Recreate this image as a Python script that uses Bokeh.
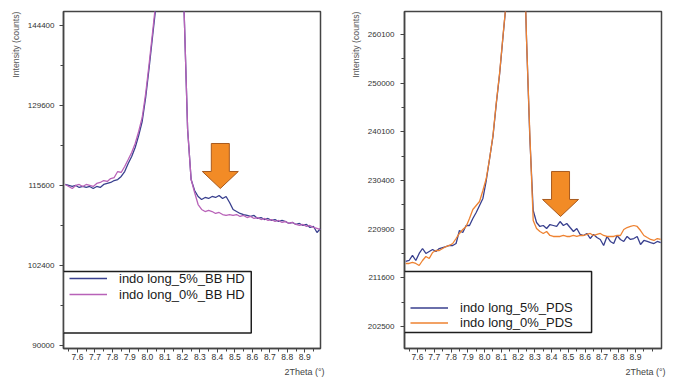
import numpy as np
from bokeh.plotting import figure
from bokeh.models import (Range1d, FixedTicker, CustomJSTickFormatter, Title,
                          Legend, LegendItem, BoxAnnotation, PolyAnnotation)
from bokeh.layouts import row
from bokeh.embed import file_html
from bokeh.resources import INLINE

FONT = "Liberation Sans"

# ---------------- data (2Theta in degrees, intensity in counts) ----------------
x_left = np.round(np.arange(7.53, 8.995, 0.02), 2)   # 74 samples
bb_5 = [115770, 115600, 115430, 115600, 115260, 115430, 115260, 115430, 115090, 115430,
        115260, 115770, 115940, 116110, 116450, 116620, 117140, 117990, 119370, 120580,
        122150, 124260, 126740, 131040, 136530, 142510, 148500, 160000, 176000, 188000,
        192000, 189000, 178000, 163000, 147000, 125320, 116620, 114750, 113740, 113230,
        113570, 113400, 113740, 113570, 113910, 113400, 113740, 112730, 111560, 111220,
        110890, 110720, 110560, 110390, 110560, 110060, 110220, 109890, 110060, 109730,
        109890, 109560, 109730, 109560, 109230, 109400, 109070, 109230, 108900, 109070,
        108570, 108740, 107750, 108410]
bb_0 = [115770, 115430, 115090, 115600, 115770, 115430, 115770, 115600, 115430, 115940,
        116110, 116450, 116280, 116790, 116960, 117990, 117820, 118850, 120060, 121280,
        122850, 124960, 127450, 131770, 137270, 143260, 149500, 161000, 177000, 189000,
        193000, 189000, 178000, 163000, 147000, 125320, 116620, 114410, 112390, 111560,
        111220, 111390, 111220, 110890, 111060, 110720, 110560, 110720, 110560, 110720,
        110390, 110560, 110220, 110390, 110060, 110220, 109890, 110060, 109730, 109890,
        109560, 109730, 109400, 109560, 109230, 109400, 109070, 108900, 109070, 108740,
        108900, 108570, 108410, 108240]

x_right = np.round(np.arange(7.53, 9.055, 0.02), 2)  # 77 samples
pds_5 = [214700, 214890, 215850, 214890, 216230, 217180, 216230, 216610, 216990, 216610,
         217180, 217370, 217560, 217760, 217760, 218140, 220640, 220260, 221610, 221610,
         222970, 224130, 225500, 226870, 230400, 234760, 239160, 245840, 251990, 259680,
         267280, 285000, 300000, 310000, 305000, 285000, 259260, 238760, 224520, 222190,
         221420, 221610, 221030, 221800, 221610, 221420, 222380, 221610, 222000, 221220,
         220450, 221030, 219880, 219680, 220070, 219100, 219880, 219290, 218910, 217760,
         219490, 218530, 218140, 219680, 218910, 218530, 219490, 218910, 219100, 219490,
         217950, 218720, 218530, 218330, 218140, 218530, 218330]
pds_0 = [214320, 214320, 214510, 214320, 213940, 214890, 215660, 215270, 216420, 216800,
         216800, 217180, 217560, 217760, 218140, 219100, 220070, 220840, 221420, 222970,
         224720, 225500, 226280, 228430, 230800, 234760, 239370, 246040, 252200, 259890,
         267480, 286000, 301000, 311000, 306000, 286000, 259260, 239500, 222580, 221030,
         220450, 220070, 220450, 219680, 219490, 219490, 219490, 219680, 219490, 219490,
         219680, 219490, 219680, 219680, 219880, 220070, 219680, 219880, 220070, 219680,
         219490, 219490, 219490, 219680, 219680, 220840, 221220, 221420, 221610, 221420,
         220640, 219680, 219290, 218910, 218720, 219100, 218910]

x_tick_labels = ["7.6", "7.7", "7.8", "7.9", "8.0", "8.1", "8.2", "8.3", "8.4",
                 "8.5", "8.6", "8.7", "8.8", "8.9"]
y_ticks_left = [90000, 102400, 115600, 129600, 144400]
y_ticks_right = [202500, 211600, 220900, 230400, 240100, 250000, 260100]

labels_left = ["indo long_5%_BB HD", "indo long_0%_BB HD"]
labels_right = ["indo long_5%_PDS", "indo long_0%_PDS"]

BLUE = "#383f8e"
PINK = "#b862b8"
ORANGE = "#ee8231"
FRAME = "#444444"

FH = 337  # frame height (px)
FW = 257  # frame width (px)


def make_panel(x, y5, y0, colors, labels, xr, yr, yticks, borders, legend_loc,
               legend_box, label_h, standoff, arrow_tip):
    bl, br, bt, bb = borders
    p = figure(frame_width=FW, frame_height=FH, x_range=Range1d(*xr),
               y_range=Range1d(*[np.sqrt(v) for v in yr]),
               output_backend="svg", toolbar_location=None,
               min_border_left=bl, min_border_right=br,
               min_border_top=bt, min_border_bottom=bb,
               background_fill_color="white", border_fill_color="white")
    p.xgrid.visible = False
    p.ygrid.visible = False
    p.outline_line_color = FRAME
    p.outline_line_width = 1.5

    # square-root intensity scale
    r5 = p.line(x, np.sqrt(y5), line_color=colors[0], line_width=1.3)
    r0 = p.line(x, np.sqrt(y0), line_color=colors[1], line_width=1.3)

    # x axis
    xt = [float(t) for t in x_tick_labels]
    xminor = sorted(set(np.round(np.arange(7.55, 9.0, 0.05), 3).tolist()))
    p.xaxis.ticker = FixedTicker(ticks=xt, minor_ticks=xminor)
    p.xaxis.formatter = CustomJSTickFormatter(code="return tick.toFixed(1);")
    # y axis
    ys = [float(np.sqrt(v)) for v in yticks]
    step = ys[1] - ys[0]
    yminor = [s + step / 2 for s in ys] + [ys[0] - step / 2]
    p.yaxis.ticker = FixedTicker(ticks=ys, minor_ticks=yminor)
    p.yaxis.formatter = CustomJSTickFormatter(
        code="return Math.round(tick*tick).toString();")

    for ax in (p.xaxis[0], p.yaxis[0]):
        ax.axis_line_color = FRAME
        ax.axis_line_width = 1.5
        ax.major_tick_line_color = FRAME
        ax.minor_tick_line_color = FRAME
        ax.major_tick_in = 0
        ax.minor_tick_in = 0
        ax.major_label_text_font = FONT
        ax.major_label_text_color = "#333333"
    p.yaxis.major_label_text_font_size = "8px"
    p.xaxis.major_label_text_font_size = "8.5px"
    p.xaxis.major_tick_out = 4
    p.xaxis.minor_tick_out = 3
    p.xaxis.major_label_standoff = 1
    p.yaxis.major_tick_out = 4
    p.yaxis.minor_tick_out = 3
    p.yaxis.major_label_standoff = standoff

    # axis titles
    p.add_layout(Title(text="Intensity (counts)", align="right",
                       text_font=FONT, text_font_size="8.7px",
                       text_font_style="normal", text_color="#555555",
                       standoff=8), "left")
    p.add_layout(Title(text="2Theta (°)", align="right", text_font=FONT,
                       text_font_size="9px", text_font_style="normal",
                       text_color="#444444", standoff=4, offset=-4), "below")

    # legend box + legend
    bx1, by0, by1 = legend_box
    p.add_layout(BoxAnnotation(left=xr[0], right=bx1, bottom=np.sqrt(by0),
                               top=np.sqrt(by1), fill_color="white",
                               fill_alpha=1.0, line_color="#1e1e1e",
                               line_alpha=1.0, line_width=1.5,
                               propagate_hover=False))
    leg = Legend(items=[LegendItem(label=labels[0], renderers=[r5]),
                        LegendItem(label=labels[1], renderers=[r0])],
                 location=legend_loc, padding=0, margin=0, spacing=0,
                 label_height=label_h, glyph_height=label_h, glyph_width=38,
                 label_standoff=12, label_text_font=FONT,
                 label_text_font_size="13px", label_text_color="#1a1a1a",
                 border_line_color=None, background_fill_alpha=0.0)
    p.add_layout(leg)

    # orange marker arrow (shape in pixels, converted to data units)
    ax_, ay_ = arrow_tip
    dxp = (xr[1] - xr[0]) / FW
    dyp = (np.sqrt(yr[1]) - np.sqrt(yr[0])) / FH
    shape = [(0, 0), (-18, 17), (-9, 17), (-9, 45), (9, 45), (9, 17), (18, 17)]
    p.add_layout(PolyAnnotation(
        xs=[ax_ + u * dxp for u, _ in shape],
        ys=[np.sqrt(ay_) + v * dyp for _, v in shape],
        fill_color="#f28b26", fill_alpha=1.0,
        line_color="#a85a1e", line_alpha=1.0, line_width=1))
    return p


p1 = make_panel(x_left, bb_5, bb_0, (BLUE, PINK), labels_left,
                (7.52, 8.99), (89550, 147070), y_ticks_left,
                (63, 12, 10, 29), (6, 46), (8.594, 91900, 101440), 16, 5,
                (8.417, 115090))
p2 = make_panel(x_right, pds_5, pds_0, (BLUE, ORANGE), labels_right,
                (7.5225, 9.055), (198450, 264950), y_ticks_right,
                (72, 10, 11, 28), (6, 18), (8.638, 201390, 212800), 15, 6,
                (8.453, 223360))

layout = row(p1, p2)
open("out.html", "w").write(file_html(layout, INLINE))
